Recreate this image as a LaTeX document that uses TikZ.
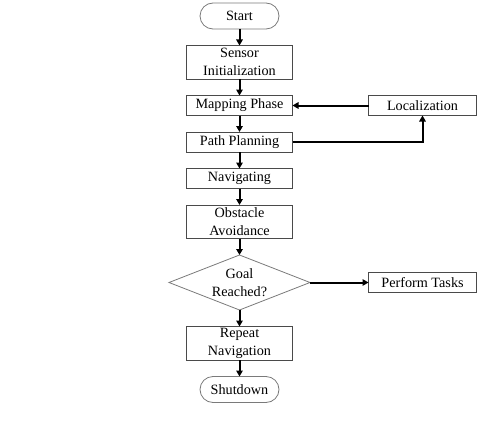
\documentclass[tikz,border=0pt]{standalone}
\usepackage{fontspec}
\setmainfont{Liberation Serif}
\usetikzlibrary{positioning,arrows.meta,shapes.geometric,calc}
\definecolor{edge}{HTML}{4A4A4A}
\definecolor{soft}{HTML}{7A7A7A}
\tikzset{box/.style={draw=edge,line width=0.8pt,align=center,font=\fontsize{14.2}{18}\selectfont,inner sep=0pt,outer sep=0pt,minimum width=106pt},
         pstep/.style={box,minimum height=20pt},
         pstep2/.style={box,minimum height=33.5pt},
         pterm/.style={box,draw=soft,rounded corners=13pt,minimum width=79pt,minimum height=26pt},
         pside/.style={box,minimum width=108pt,minimum height=20pt},
         pdec/.style={box,draw=soft,diamond,aspect=2.56,minimum width=141pt,minimum height=55pt},
         arr/.style={-{Triangle[length=6pt,width=6.5pt]},black,line width=2pt}}

\begin{document}
\begin{tikzpicture}[x=1pt,y=1pt,node distance=16.5pt and 76pt]
 \useasboundingbox (0,0) rectangle (482,-428);
 \node[pterm] (start) at (239.5,-16) {Start};
 \node[pstep2,below=of start] (sens) {Sensor\\Initialization};
 \node[pstep,below=of sens] (map) {Mapping Phase};
 \node[pstep,below=of map] (path) {Path Planning};
 \node[pstep,below=of path] (nav) {Navigating};
 \node[pstep2,below=of nav] (obst) {Obstacle\\Avoidance};
 \node[pdec,below=of obst] (goal) {Goal\\Reached?};
 \node[pstep2,below=of goal] (rep) {Repeat\\Navigation};
 \node[pterm,below=of rep] (stop) {Shutdown};
 \node[pside,right=of map] (loc) {Localization};
 \node[pside] (task) at (loc |- goal) {Perform Tasks};
 \draw[arr] (start)--(sens); \draw[arr] (sens)--(map); \draw[arr] (map)--(path);
 \draw[arr] (path)--(nav); \draw[arr] (nav)--(obst); \draw[arr] (obst)--(goal);
 \draw[arr] (goal)--(rep); \draw[arr] (rep)--(stop);
 \draw[arr] (loc)--(map);
 \draw[arr] (path.east) -| (loc.south);
 \draw[arr] (goal.east)--(task);
\end{tikzpicture}
\end{document}
